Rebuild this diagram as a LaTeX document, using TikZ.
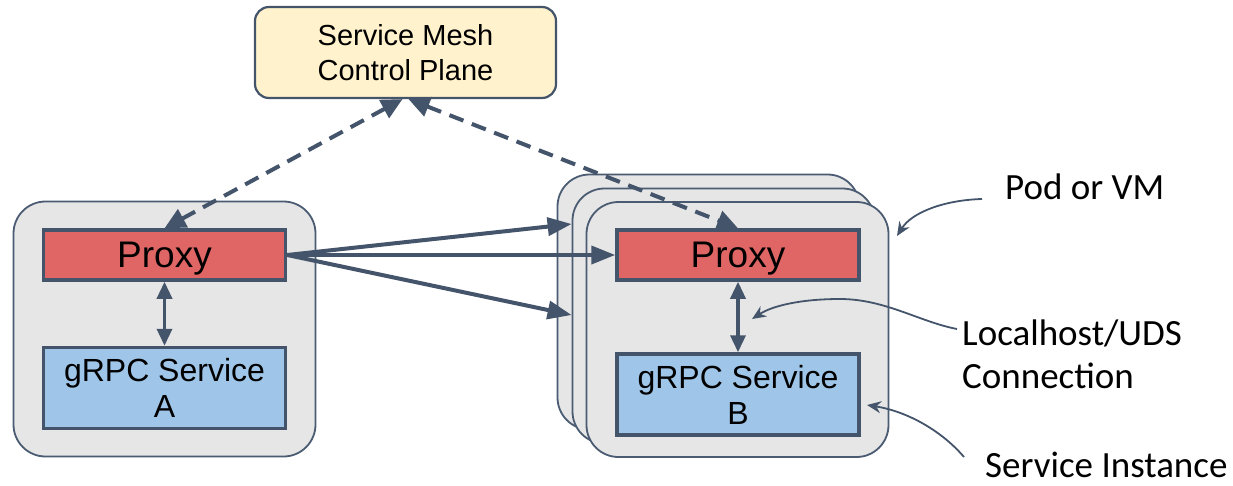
\documentclass[tikz,border=0pt]{standalone}
\usepackage{fontspec}
\usetikzlibrary{arrows.meta}
\newfontfamily\arialf{Liberation Sans}
\newfontfamily\calibrif{Carlito}
\newcommand\cpfont{\arialf\fontsize{29}{35}\selectfont}
\newcommand\pxfont{\arialf\fontsize{37}{44}\selectfont}
\newcommand\svcfont{\arialf\fontsize{32}{36}\selectfont}
\newcommand\notefont{\calibrif\fontsize{37}{43}\selectfont}
\definecolor{edge}{HTML}{44546A}
\definecolor{podline}{HTML}{4A5B72}
\definecolor{podfill}{HTML}{E6E6E6}
\definecolor{proxyfill}{HTML}{E06666}
\definecolor{svcfill}{HTML}{9FC5E8}
\definecolor{cpfill}{HTML}{FFF2CC}
\tikzset{
  pod/.style={draw=podline, line width=1.8pt, fill=podfill, rounded corners=32pt,
    minimum width=302pt, minimum height=255pt, inner sep=0pt},
  proxybox/.style={draw=edge, line width=3.5pt, fill=proxyfill, minimum width=242pt,
    minimum height=50pt, inner sep=0pt, font=\pxfont, text depth=0pt},
  svcbox/.style={draw=edge, line width=3.5pt, fill=svcfill, minimum width=242pt,
    minimum height=81pt, inner sep=0pt, align=center, font=\svcfont},
  cpbox/.style={draw=edge, line width=2.2pt, fill=cpfill, rounded corners=14pt,
    minimum width=301pt, minimum height=91pt, inner sep=0pt, align=center,
    font=\cpfont, text depth=0pt},
  flow/.style={draw=edge, line width=4pt, -{Triangle[length=24pt,width=18pt]}},
  ctrl/.style={draw=edge, line width=4pt, dash pattern=on 15pt off 9pt,
    {Triangle[length=21pt,width=20pt]}-{Triangle[length=21pt,width=20pt]}},
  local/.style={draw=edge, line width=3.5pt,
    {Triangle[length=17pt,width=15pt]}-{Triangle[length=17pt,width=15pt]}},
  note/.style={draw=edge, line width=1.8pt, -{Stealth[length=14pt,width=12pt]}},
  notelabel/.style={font=\notefont, inner sep=0pt, anchor=base west, text depth=0pt},
}
\begin{document}
\begin{tikzpicture}[x=1pt, y=-1pt]
\useasboundingbox (0,0) rectangle (1233,485);

% control plane
\node[cpbox] (cp) at (405.5,52.5) {Service Mesh\\Control Plane};

% pod running service A
\node[pod] (podA) at (164.5,329) {};
\node[proxybox] (pxA) at (164.5,255) {Proxy};
\node[svcbox] (svcA) at (164.5,388) {gRPC Service\\A};

% replicated pods running service B
\node[pod] (podB3) at (708.5,302) {};
\node[pod] (podB2) at (723.5,316) {};
\node[pod] (podB1) at (737.5,329.5) {};
\node[proxybox] (pxB) at (738,255) {Proxy};
\node[svcbox] (svcB) at (738,394.5) {gRPC Service\\B};

% proxy to proxy traffic
\draw[flow] (pxA.east) -- ([yshift=92pt]podB2.west);
\draw[flow] (pxA.east) -- (pxB.west);
\draw[flow] (pxA.east) -- ([yshift=1pt]podB2.west);

% control plane links
\draw[ctrl] ([xshift=-3pt]cp.south) -- (pxA.north);
\draw[ctrl] ([xshift=3pt]cp.south) -- (pxB.north);

% local links
\draw[local] (pxA.south) -- (svcA.north);
\draw[local] (pxB.south) -- (svcB.north);

% annotations
\node[notelabel] (podlbl) at (1005,199) {Pod or VM};
\node[notelabel] (loclbl) at (962,345) {Localhost/UDS};
\node[notelabel] (loclbl2) at (962,388) {Connection};
\node[notelabel] (instlbl) at (985,477) {Service Instance};

\coordinate (podtail) at (982,199);
\coordinate (podtip) at (897,236);
\coordinate (loctail) at (957,329);
\coordinate (loctip) at (752,319);
\coordinate (insttail) at (964,457);
\coordinate (insttip) at (867,405);

\draw[note] (podtail) .. controls (945,200) and (912,212) .. (podtip);
\draw[note] (loctail) .. controls (920,322) and (885,299) .. (840,299)
  .. controls (800,299) and (772,306) .. (loctip);
\draw[note] (insttail) .. controls (940,429) and (905,411) .. (insttip);
\end{tikzpicture}
\end{document}
